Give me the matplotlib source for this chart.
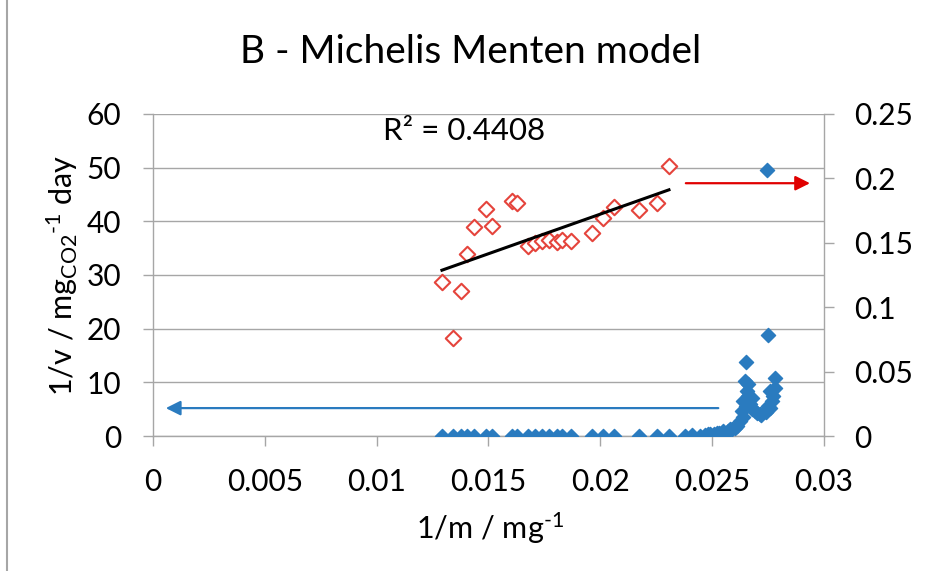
import matplotlib.pyplot as plt
import numpy as np
from matplotlib.lines import Line2D

# Calibri-like look; Lato is the closest installed family
plt.rcParams['font.family'] = ['Lato', 'DejaVu Sans']
plt.rcParams['mathtext.fontset'] = 'custom'
plt.rcParams['mathtext.rm'] = 'Lato'
plt.rcParams['mathtext.it'] = 'Lato:italic'

# red series (right axis)
red_x = [0.01292, 0.01341, 0.01377, 0.01404, 0.01435, 0.01489, 0.01516,
         0.01605, 0.01627, 0.01677, 0.01708, 0.01739, 0.01771, 0.01806,
         0.01829, 0.01869, 0.01963, 0.02012, 0.02061, 0.02173, 0.02253,
         0.02307]
red_y = [0.1199, 0.0763, 0.1129, 0.1410, 0.1620, 0.1760, 0.1628,
         0.1822, 0.1807, 0.1472, 0.1495, 0.1511, 0.1519, 0.1503,
         0.1519, 0.1511, 0.1573, 0.1690, 0.1776, 0.1752, 0.1807,
         0.2095]

# blue series (left axis)
blue_x = [0.01292, 0.01341, 0.01377, 0.01404, 0.01435, 0.01489, 0.01516,
          0.01605, 0.01627, 0.01677, 0.01708, 0.01739, 0.01771, 0.01806,
          0.01829, 0.01869, 0.01963, 0.02012, 0.02061, 0.02173, 0.02253,
          0.02307, 0.02378, 0.02410, 0.02446, 0.02470, 0.02481, 0.02490,
          0.02510, 0.02522, 0.02530, 0.02548, 0.02550, 0.02570, 0.02580,
          0.02590, 0.02602, 0.02610, 0.02624, 0.02633, 0.02638, 0.02640,
          0.02647, 0.02650, 0.02651, 0.02656, 0.02660, 0.02660, 0.02670,
          0.02678, 0.02680, 0.02692, 0.02700, 0.02714, 0.02720, 0.02736,
          0.02740, 0.02745, 0.02750, 0.02750, 0.02758, 0.02760, 0.02767,
          0.02770, 0.02780, 0.02780]
blue_y = [0, 0, 0, 0, 0, 0, 0,
          0, 0, 0, 0, 0, 0, 0,
          0, 0, 0, 0, 0, 0, 0,
          0, 0, 0.1, 0, 0.2, 0.37, 0.3,
          0.4, 0.56, 0.6, 0.93, 0.8, 1.0, 1.3,
          1.3, 1.5, 1.8, 2.8, 4.7, 6.5, 3.5,
          10.3, 5.5, 13.8, 8.4, 9.7, 7.5, 6.0,
          7.1, 5.0, 4.7, 4.3, 4.1, 4.0, 4.7,
          4.5, 49.5, 5.6, 18.9, 8.4, 5.2, 6.5,
          7.5, 9.0, 10.8]

x_ticks = [0, 0.005, 0.01, 0.015, 0.02, 0.025, 0.03]
x_labels = ['0', '0.005', '0.01', '0.015', '0.02', '0.025', '0.03']
left_ticks = [0, 10, 20, 30, 40, 50, 60]
right_ticks = [0, 0.05, 0.1, 0.15, 0.2, 0.25]
right_labels = ['0', '0.05', '0.1', '0.15', '0.2', '0.25']

GRAY = '#a6a6a6'
BLUE = '#2a7bbf'
RED = '#e5443c'

fig = plt.figure(figsize=(9.26, 5.71), dpi=100)
ax = fig.add_axes([0.1652, 0.2364, 0.7246, 0.5640])
ax2 = ax.twinx()

ax.scatter(blue_x, blue_y, marker='D', s=52, color=BLUE, zorder=3)
ax2.scatter(red_x, red_y, marker='D', s=62, facecolor='white',
            edgecolor=RED, linewidth=1.5, zorder=3)

# linear trendline of the red series
k, b = np.polyfit(red_x, red_y, 1)
tx = np.array([min(red_x), max(red_x)])
ax2.plot(tx, k * tx + b, color='black', lw=2.2, zorder=4)

ax.set_xlim(0, 0.03)
ax.set_ylim(0, 60)
ax2.set_ylim(0, 0.25)
ax.set_xticks(x_ticks, x_labels)
ax.set_yticks(left_ticks)
ax2.set_yticks(right_ticks, right_labels)

ax.grid(axis='y', color=GRAY, lw=1.0)
ax.set_axisbelow(True)
for a in (ax, ax2):
    a.spines['top'].set_visible(False)
    for s in a.spines.values():
        s.set_color(GRAY)
        s.set_linewidth(1.0)
ax2.spines['left'].set_visible(False)
ax2.spines['bottom'].set_visible(False)
ax.spines['right'].set_visible(False)
ax.tick_params(axis='both', length=7, width=1, color=GRAY, labelsize=21.5, pad=16)
ax2.tick_params(axis='y', length=7, width=1, color=GRAY, labelsize=21.5, pad=15)

# arrows pointing to the axis each series uses
ax.annotate('', xy=(0.00045, 5.2), xytext=(0.0254, 5.2),
            arrowprops=dict(arrowstyle='-|>', color=BLUE, lw=1.6, mutation_scale=22))
ax.annotate('', xy=(0.0295, 47.1), xytext=(0.0237, 47.1),
            arrowprops=dict(arrowstyle='-|>', color='#e00000', lw=1.6, mutation_scale=22))

ax.text(0.01027, 56.8, 'R² = 0.4408', fontsize=22.5, va='center', ha='left')

fig.text(471 / 926, 1 - 52 / 571, 'B - Michelis Menten model', fontsize=28,
         ha='center', va='center')
fig.text(490 / 926, 1 - 528 / 571, '1/m / mg$^{\\text{-1}}$', fontsize=22,
         ha='center', va='center')
fig.text(62 / 926, 1 - 275 / 571, '1/v / mg$_{\\text{CO2}}$$^{\\text{-1}}$ day',
         fontsize=22, ha='center', va='center', rotation=90)

# thin frame line on the left edge of the picture
fig.add_artist(Line2D([7 / 926, 7 / 926], [0, 1], color=GRAY, lw=1.5))

fig.savefig('out.png', dpi=100)
